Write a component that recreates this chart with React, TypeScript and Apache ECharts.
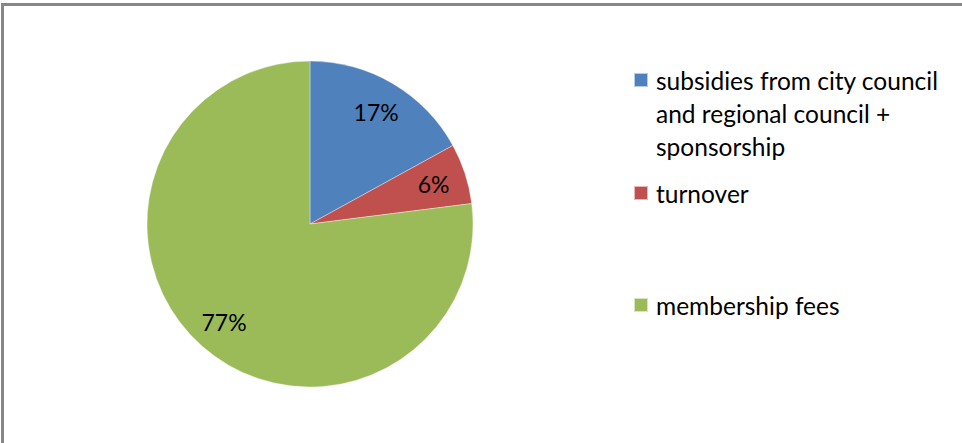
import React, { useEffect, useRef } from "react";
import * as echarts from "echarts";

const categories = [
  "subsidies from city council\nand regional council +\nsponsorship",
  "turnover",
  "membership fees",
];
const values = [17, 6, 77];
const colors = ["#4F81BD", "#C0504D", "#9BBB59"];

const FONT = "Lato";
const LEGEND_CENTERS = [80, 193, 305];
const LINE_H = 33;

export default function App() {
  const ref = useRef<HTMLDivElement>(null);
  useEffect(() => {
    if (!ref.current) return;
    const chart = echarts.init(ref.current, undefined, { renderer: "svg" });
    const pieData = categories.map((name, i) => ({
      name,
      value: values[i],
      itemStyle: { color: colors[i] },
    }));
    const legends = categories.map((name, i) => {
      const lines = name.split("\n").length;
      const blockLines = 2 * lines - 1;
      return {
        data: [{ name, icon: "rect", itemStyle: { color: colors[i] } }],
        orient: "vertical",
        left: 633,
        top: LEGEND_CENTERS[i] - (blockLines * LINE_H) / 2,
        padding: 0,
        itemGap: 0,
        itemWidth: 14,
        itemHeight: 14,
        selectedMode: false,
        formatter: (n: string) => "\n".repeat(n.split("\n").length - 1) + n,
        textStyle: {
          fontFamily: FONT,
          fontSize: 24.5,
          lineHeight: LINE_H,
          color: "#000",
          padding: [0, 0, 0, 3],
        },
      };
    });
    chart.setOption({
      animation: false,
      backgroundColor: "#fff",
      legend: legends,
      graphic: [
        {
          type: "polyline",
          shape: { points: [[2.5, 443], [2.5, 4.5], [962, 4.5]] },
          style: { stroke: "#878787", lineWidth: 3, fill: "none" },
          silent: true,
        },
      ],
      series: [
        {
          type: "pie",
          center: [310, 224],
          radius: 163,
          startAngle: 90,
          clockwise: true,
          label: { show: false },
          labelLine: { show: false },
          itemStyle: { borderColor: "rgba(255,255,255,0.6)", borderWidth: 0.6 },
          silent: true,
          data: pieData,
        },
        {
          type: "pie",
          center: [310, 224],
          radius: [91, 163],
          startAngle: 90,
          clockwise: true,
          silent: true,
          itemStyle: { color: "rgba(0,0,0,0)" },
          labelLine: { show: false },
          label: {
            show: true,
            position: "inside",
            formatter: "{c}%",
            fontFamily: FONT,
            fontSize: 23,
            color: "#000",
          },
          data: categories.map((name, i) => ({
            name,
            value: values[i],
            itemStyle: { color: "rgba(0,0,0,0)" },
          })),
        },
      ],
    });
    return () => chart.dispose();
  }, []);
  return (
    <div
      ref={ref}
      style={{ position: "fixed", left: 0, top: 0, width: 962, height: 443 }}
    />
  );
}
